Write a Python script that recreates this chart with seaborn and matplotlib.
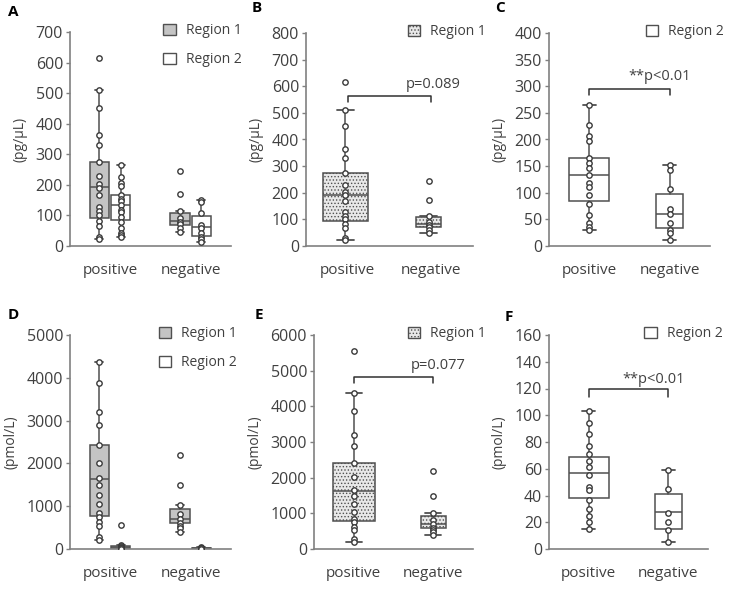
import numpy as np
import pandas as pd
import matplotlib
matplotlib.use("Agg")
import matplotlib.pyplot as plt
from matplotlib.patches import Patch
import seaborn as sns

sns.set_style("ticks")
plt.rcParams['font.family'] = ['Open Sans', 'DejaVu Sans']
plt.rcParams['hatch.color'] = '#9a9a9a'
plt.rcParams['hatch.linewidth'] = 0.6

cats = ['positive', 'negative']

# values (pg/uL)
pg_r1_pos = [615, 511, 452, 363, 329, 276, 230, 204, 190, 168, 127, 113, 100, 83, 66, 31, 22]
pg_r1_neg = [245, 171, 113, 92, 78, 72, 59, 47]
pg_r2_pos = [264, 227, 206, 197, 166, 155, 147, 133, 118, 110, 95, 79, 58, 44, 35, 30]
pg_r2_neg = [152, 143, 107, 70, 60, 44, 30, 24, 12]

# box stats: q1, median, q3, lower whisker, upper whisker
pg_r1_box = [(93, 192, 276, 22, 511), (70, 82, 109, 47, 113)]
pg_r2_box = [(84, 134, 166, 30, 264), (33, 61, 98, 12, 152)]

# pmol/L
pmol_r1_pos = [5550, 4360, 3880, 3200, 2900, 2420, 2020, 1650, 1500, 1270, 1040, 830, 750, 620, 530, 270, 205]
pmol_r1_neg = [2200, 1500, 1020, 820, 700, 600, 540, 480, 400]
pmol_r1_box = [(780, 1640, 2420, 205, 4360), (600, 700, 930, 400, 1020)]

pmol_r2d_pos = [550, 95, 70, 50, 35, 20, 10]
pmol_r2d_neg = [45, 35, 25, 15, 5]
pmol_r2d_box = [(25, 45, 65, 10, 100), (10, 20, 35, 5, 45)]

pmol_r2_pos = [103, 94, 86, 77, 71, 66, 61, 55, 46, 44, 37, 30, 25, 20, 15]
pmol_r2_neg = [59, 45, 27, 20, 14, 5]
pmol_r2_box = [(38, 57, 69, 15, 103), (15, 28, 41, 5, 59)]

TXT = '#404040'
EDGE = '#505050'
DARK_FILL = '#c4c4c4'
LIGHT_FILL = '#e8e8e8'


def draw_panel(ax, series, ymax, ystep, ylabel, legend_x):
    # series: list of (points_pos, points_neg, box stats, offset, widths, capw, fill, hatch, label)
    rows = []
    handles = []
    for pos_pts, neg_pts, box, off, widths, capw, fill, hatch, label in series:
        stats = []
        for i, (q1, med, q3, lo, hi) in enumerate(box):
            stats.append(dict(q1=q1, med=med, q3=q3, whislo=lo, whishi=hi, fliers=[]))
        xpos = [0 + off, 1 + off]
        ax.bxp(stats, positions=xpos, widths=widths, capwidths=capw,
               patch_artist=True, showfliers=False, manage_ticks=False,
               boxprops=dict(facecolor=fill, edgecolor=EDGE, linewidth=1.1, hatch=hatch),
               medianprops=dict(color=EDGE, linewidth=1.1),
               whiskerprops=dict(color=EDGE, linewidth=1.1),
               capprops=dict(color=EDGE, linewidth=1.3))
        for x, pts in zip(xpos, [pos_pts, neg_pts]):
            for v in pts:
                rows.append({'x': x, 'value': v})
        handles.append(Patch(facecolor=fill, edgecolor=EDGE, hatch=hatch, label=label, linewidth=1))
    df = pd.DataFrame(rows)
    sns.scatterplot(data=df, x='x', y='value', ax=ax, s=15, color='white',
                    edgecolor='#3a3a3a', linewidth=1.0, zorder=5, legend=False)
    ax.set_xlim(-0.5, 1.5)
    ax.set_ylim(0, ymax)
    ax.set_yticks(np.arange(0, ymax + 1, ystep))
    ax.set_xticks([0, 1])
    ax.set_xticklabels(cats)
    ax.set_xlabel('')
    ax.set_ylabel(ylabel, fontsize=10, color=TXT, labelpad=6)
    ax.tick_params(axis='y', length=3, width=1, color='#808080', labelsize=11.5, labelcolor=TXT, pad=2)
    ax.tick_params(axis='x', length=0, labelsize=11, labelcolor=TXT, pad=12)
    sns.despine(ax=ax)
    for s in ['left', 'bottom']:
        ax.spines[s].set_color('#808080')
        ax.spines[s].set_linewidth(1.2)
    ax.legend(handles=handles, loc='upper left', bbox_to_anchor=(legend_x, 1.04),
              frameon=False, fontsize=10, handlelength=0.9, handleheight=0.9,
              handletextpad=0.7, labelspacing=1.0, borderpad=0, borderaxespad=0,
              labelcolor=TXT)


def bracket(ax, y, leg, text, tx, ty):
    ax.plot([0, 0, 1, 1], [y - leg, y, y, y - leg], color='#303030', linewidth=1.1)
    ax.text(tx, ty, text, ha='center', va='center', fontsize=10.5, color=TXT)


fig = plt.figure(figsize=(7.3, 5.98), dpi=100)
W, H = 730, 598


def add_axes(left, right, top, bottom):
    return fig.add_axes([left / W, (H - bottom) / H, (right - left) / W, (bottom - top) / H])


axA = add_axes(70, 231, 32, 246)
axB = add_axes(306, 473, 33, 246)
axC = add_axes(549, 710, 33, 246)
axD = add_axes(70, 231, 335, 549)
axE = add_axes(314, 473, 335, 549)
axF = add_axes(549, 708, 335, 549)

draw_panel(axA, [
    (pg_r1_pos, pg_r1_neg, pg_r1_box, -0.135, [0.24, 0.24], [0.1, 0.1], DARK_FILL, None, 'Region 1'),
    (pg_r2_pos, pg_r2_neg, pg_r2_box, 0.13, [0.24, 0.24], [0.1, 0.1], 'white', None, 'Region 2'),
], 700, 100, '(pg/μL)', 0.58)

draw_panel(axB, [
    (pg_r1_pos, pg_r1_neg, pg_r1_box, -0.03, [0.54, 0.30], [0.2, 0.2], LIGHT_FILL, '.....', 'Region 1'),
], 800, 100, '(pg/μL)', 0.61)
bracket(axB, 563, 22, 'p=0.089', 1.02, 605)

draw_panel(axC, [
    (pg_r2_pos, pg_r2_neg, pg_r2_box, 0.0, [0.50, 0.33], [0.16, 0.16], 'white', None, 'Region 2'),
], 400, 50, '(pg/μL)', 0.60)
bracket(axC, 295, 11, '**p<0.01', 0.87, 319)

draw_panel(axD, [
    (pmol_r1_pos, pmol_r1_neg, pmol_r1_box, -0.135, [0.24, 0.24], [0.1, 0.1], DARK_FILL, None, 'Region 1'),
    (pmol_r2d_pos, pmol_r2d_neg, pmol_r2d_box, 0.13, [0.24, 0.24], [0.1, 0.1], 'white', None, 'Region 2'),
], 5000, 1000, '(pmol/L)', 0.55)

draw_panel(axE, [
    (pmol_r1_pos, pmol_r1_neg, pmol_r1_box, 0.0, [0.53, 0.31], [0.2, 0.2], LIGHT_FILL, '.....', 'Region 1'),
], 6000, 1000, '(pmol/L)', 0.59)
bracket(axE, 4830, 180, 'p=0.077', 1.06, 5140)

draw_panel(axF, [
    (pmol_r2_pos, pmol_r2_neg, pmol_r2_box, 0.0, [0.50, 0.34], [0.16, 0.16], 'white', None, 'Region 2'),
], 160, 20, '(pmol/L)', 0.60)
bracket(axF, 119.4, 6, '**p<0.01', 0.81, 127)

for lab, x, y in [('A', 8, 12), ('B', 252, 8), ('C', 495, 8), ('D', 8, 315), ('E', 255, 315), ('F', 505, 317)]:
    fig.text(x / W, 1 - y / H, lab, fontsize=11, fontweight='bold', ha='left', va='center', color='black')

fig.savefig('out.png', dpi=100)
